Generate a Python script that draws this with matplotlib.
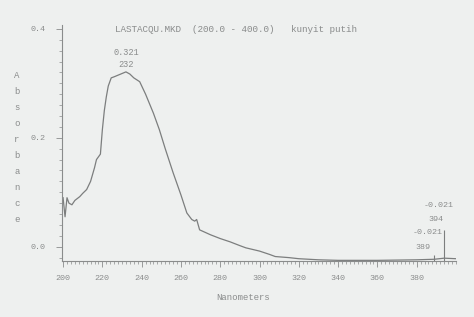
import matplotlib.pyplot as plt
from matplotlib.ticker import MultipleLocator

# spectrum
wavelength = [200, 201, 202, 203, 204.5, 206, 208.5, 210, 212, 214, 216, 217, 219,
              220, 221, 222, 223, 224.5, 226, 228, 230, 232, 234, 236, 239, 242,
              246, 249, 252, 256, 260, 263, 265.5, 267, 268, 269.5, 275, 280, 285,
              290, 293, 300, 305, 308, 315, 320, 330, 340, 360, 380, 389, 394, 400]
absorbance = [0.09, 0.055, 0.09, 0.08, 0.077, 0.085, 0.092, 0.098, 0.105, 0.12, 0.145,
              0.16, 0.17, 0.215, 0.25, 0.275, 0.295, 0.31, 0.312, 0.315, 0.318, 0.321,
              0.317, 0.31, 0.303, 0.28, 0.245, 0.215, 0.18, 0.136, 0.095, 0.062, 0.05,
              0.047, 0.05, 0.031, 0.022, 0.015, 0.009, 0.002, -0.002, -0.008, -0.014,
              -0.018, -0.02, -0.022, -0.024, -0.025, -0.025, -0.024, -0.023, -0.021,
              -0.022]
marker_nm = [389, 394]
marker_top = [-0.015, 0.031]

ink = '#8a8c8c'
paper = '#eef0ef'
mono = 'Liberation Mono'

fig = plt.figure(figsize=(4.74, 3.17), dpi=100)
fig.patch.set_facecolor(paper)
ax = fig.add_axes([0.131, 0.177, 0.831, 0.744])
ax.set_facecolor(paper)

ax.plot(wavelength, absorbance, color='#7c7e7e', lw=0.9)
ax.vlines(marker_nm, -0.026, marker_top, color='#7c7e7e', lw=0.8)

ax.set_xlim(199.5, 400)
ax.set_ylim(-0.026, 0.407)
for s in ['top', 'right']:
    ax.spines[s].set_visible(False)
for s in ['left', 'bottom']:
    ax.spines[s].set_color(ink)
    ax.spines[s].set_linewidth(0.8)

ax.set_xticks(range(200, 400, 20))
ax.set_yticks([0.0, 0.2, 0.4])
ax.set_yticklabels(['0.0', '0.2', '0.4'])
ax.xaxis.set_minor_locator(MultipleLocator(2))
ax.yaxis.set_minor_locator(MultipleLocator(0.02))
ax.tick_params(axis='both', colors=ink, labelsize=6, width=0.6)
ax.tick_params(axis='x', which='major', length=4, pad=6)
ax.tick_params(axis='x', which='minor', length=2.5, width=0.5, color=ink)
ax.tick_params(axis='y', which='major', length=4, pad=8)
ax.tick_params(axis='y', which='minor', length=2, width=0.5, color=ink)
for lab in ax.get_xticklabels() + ax.get_yticklabels():
    lab.set_family(mono)

ax.text(232, 0.357, '0.321', color=ink, fontsize=6.2, ha='center', va='center', family=mono)
ax.text(232, 0.335, '232', color=ink, fontsize=6.2, ha='center', va='center', family=mono)
ax.text(399, 0.075, '-0.021', color=ink, fontsize=6, ha='right', va='center', family=mono)
ax.text(393.4, 0.05, '394', color=ink, fontsize=6, ha='right', va='center', family=mono)
ax.text(393.4, 0.026, '-0.021', color=ink, fontsize=6, ha='right', va='center', family=mono)
ax.text(386.8, -0.002, '389', color=ink, fontsize=6, ha='right', va='center', family=mono)

fig.text(115 / 474, 1 - 32 / 317, 'LASTACQU.MKD  (200.0 - 400.0)   kunyit putih',
         color=ink, fontsize=6.7, family=mono)
fig.text(243 / 474, 1 - 300 / 317, 'Nanometers', color=ink, fontsize=6.5,
         ha='center', family=mono)
fig.text(17 / 474, 1 - 148 / 317, '\n'.join('Absorbance'), color=ink, fontsize=6.5,
         ha='center', va='center', family=mono, linespacing=2.0)

fig.savefig('out.png', dpi=100, facecolor=paper)
